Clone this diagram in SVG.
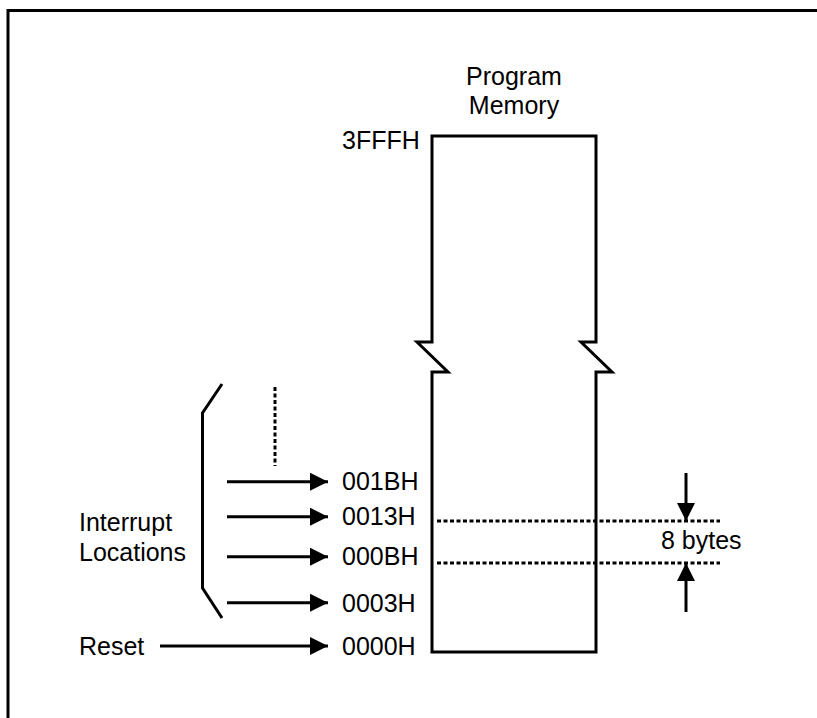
<svg xmlns="http://www.w3.org/2000/svg" width="817" height="718" viewBox="0 0 817 718">
<defs>
<marker id="ah" markerWidth="6" markerHeight="6" refX="6" refY="3" orient="auto" markerUnits="strokeWidth">
<path d="M0,0 L6,3 L0,6 Z" fill="#000"/>
</marker>
<style>
text{font-family:"Liberation Sans",Arial,sans-serif;font-size:25px;fill:#000}
.ln{stroke:#000;stroke-width:3;fill:none}
.dot{stroke:#000;stroke-width:3;fill:none;stroke-dasharray:4 2.5}
.arr{stroke:#000;stroke-width:3;fill:none;marker-end:url(#ah)}
</style>
</defs>
<rect width="817" height="718" fill="#fff"/>
<g id="frame">
<path class="ln" d="M8,718 V10.5 H817" stroke-width="2.5"/>
</g>
<g id="memory">
<path class="ln" d="M432,136 H596 V342 H581 L612,372 H596 V652 H432 V372 H448 L417,342 H432 Z"/>
<text x="514" y="85" text-anchor="middle">Program</text>
<text x="514" y="114" text-anchor="middle">Memory</text>
<text x="342" y="149">3FFFH</text>
</g>
<g id="brace">
<path class="ln" d="M222,384 L202.5,413 V588 L222,618"/>
<text x="79" y="531">Interrupt</text>
<text x="79" y="561">Locations</text>
</g>
<g id="labels">
<text x="342" y="490">001BH</text>
<text x="342" y="525">0013H</text>
<text x="342" y="565">000BH</text>
<text x="342" y="612">0003H</text>
<text x="342" y="655">0000H</text>
<text x="79" y="655">Reset</text>
<text x="661" y="549">8 bytes</text>
</g>
<g id="connectors">
<line class="dot" x1="275" y1="387" x2="275" y2="466"/>
<line class="arr" x1="227" y1="481.7" x2="328" y2="481.7"/>
<line class="arr" x1="227" y1="516.7" x2="328" y2="516.7"/>
<line class="arr" x1="227" y1="556.7" x2="328" y2="556.7"/>
<line class="arr" x1="227" y1="602.7" x2="328" y2="602.7"/>
<line class="arr" x1="160" y1="646" x2="328" y2="646"/>
<line class="dot" x1="437" y1="521" x2="720" y2="521"/>
<line class="dot" x1="437" y1="563" x2="720" y2="563"/>
<line class="arr" x1="686" y1="473" x2="686" y2="521"/>
<line class="arr" x1="686" y1="612" x2="686" y2="563"/>
</g>
</svg>
